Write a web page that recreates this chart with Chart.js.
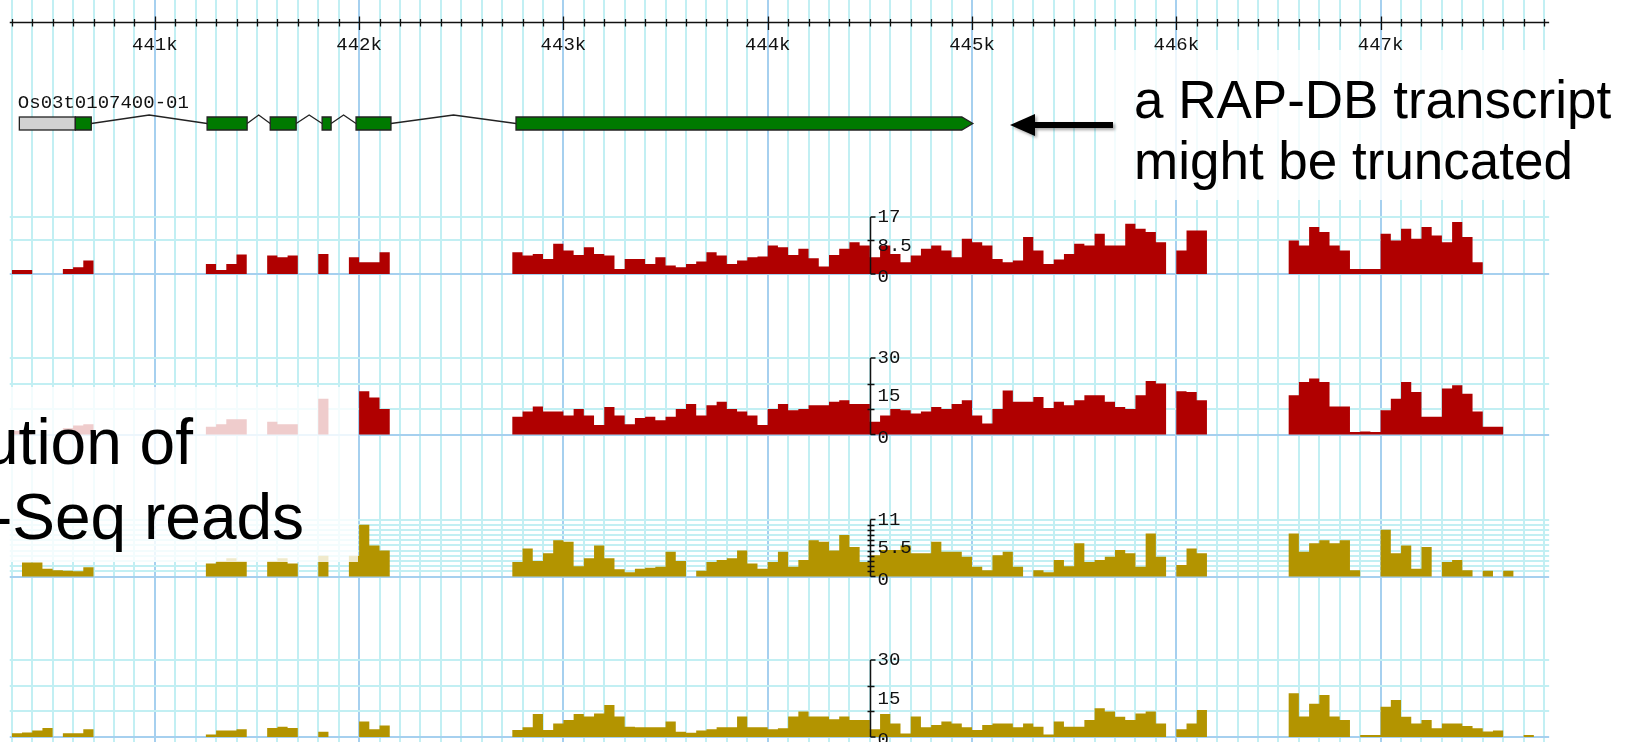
<!DOCTYPE html>
<html><head><meta charset="utf-8">
<script src="https://cdn.jsdelivr.net/npm/chart.js@4"></script>
<style>
html,body{margin:0;padding:0;background:#fff;overflow:hidden}
#wrap{position:relative;width:1633px;height:742px;overflow:hidden}
#c{position:absolute;left:0;top:0}
.box{position:absolute;background:rgba(255,255,255,0.8)}
.txt{position:absolute;font-family:"Liberation Sans",Arial,sans-serif;color:#000;white-space:nowrap;line-height:1}
svg{position:absolute;left:0;top:0}
</style></head><body>
<div id="wrap">
<canvas id="c" width="1633" height="742"></canvas>
<div class="box" style="left:1113px;top:50px;width:520px;height:150px"></div>
<div class="box" style="left:0;top:387px;width:358px;height:175px"></div>
<svg width="1633" height="742">
  <defs><filter id="sh" x="-20%" y="-50%" width="140%" height="200%"><feDropShadow dx="2" dy="2" stdDeviation="1.5" flood-color="#000" flood-opacity="0.35"/></filter></defs>
  <g filter="url(#sh)"><rect x="1031" y="122" width="82" height="6" fill="#000"/><polygon points="1010,125 1035,114 1035,136" fill="#000"/></g>
</svg>
<div class="txt" style="left:1134px;top:73px;font-size:53px">a RAP-DB transcript</div>
<div class="txt" style="left:1134px;top:134px;font-size:53px">might be truncated</div>
<div class="txt" style="left:-17px;top:410px;font-size:64px">ution of</div>
<div class="txt" style="left:-9px;top:485px;font-size:64px">-Seq reads</div>
</div>
<script>
// ---------- data ----------
const BIN_START = 440300, BIN_SIZE = 50;
const rulerTickPos = [441000, 442000, 443000, 444000, 445000, 446000, 447000];
const rulerTickLabels = ['441k', '442k', '443k', '444k', '445k', '446k', '447k'];
const geneLabel = 'Os03t0107400-01';
const utrBlocks = [[440337, 440611]];
const cdsBlocks = [[440611, 440689], [441256, 441452], [441565, 441692], [441819, 441863], [441985, 442156], [442768, 445004]];

const rna1 = [
 1.2,1.2,0,0,0,1.5,2,4,0,0,
 0,0,0,0,0,0,0,0,0,3,
 1.2,3,5.8,0,0,5.5,5,5.5,0,0,
 6,0,0,5,3.5,3.5,6.5,0,0,0,
 0,0,0,0,0,0,0,0,0,6.5,
 5.5,6,4.5,9,7,5.7,8,6,5.5,1.5,
 4.5,4.5,3,5,2.5,2,3,3.7,6.5,5.5,
 3,4,5,5.2,8.5,8,5.7,7.5,4.7,2.2,
 5.7,7.5,9.5,8.5,5,8.5,6,3.5,5.5,7.5,
 8.5,7,5,10.5,9.5,8.5,4.5,3.5,4,11,
 7,3,4.3,6,9,8.5,12,8.5,8.5,15,
 13.5,12.5,9.5,0,7,13,13,0,0,0,
 0,0,0,0,0,10,8.5,14,12.5,8.5,
 7,1.5,1.5,1.5,12,10,13.5,10.5,14,11.5,
 9.5,15.5,11,3.5,0,0,0,0,0,0];
const rna2 = [
 1.5,1.5,0,0,0,2.5,3.5,4,0,0,
 0,0,0,0,0,0,0,0,0,3,
 4,6,6,0,0,5,4,4,0,0,
 14,0,0,0,17,14.5,10,0,0,0,
 0,0,0,0,0,0,0,0,0,7,
 9,11,9,9,7.5,10,7.5,3.7,10.8,7.5,
 4,6.5,7,5.6,7,10,12,7.5,11.5,12.8,
 10,9,7.5,3.7,10,12,9.5,10,11.5,11.5,
 12.8,13.4,12,12,5,7.5,10,9.5,8.2,9,
 10.8,10,12,13.4,7.5,4.3,10,17.3,12.8,12.8,
 14.7,10.4,12.8,11.5,13.4,15.4,15.4,12.8,10.8,10,
 15.4,21,20,0,17,16.7,13.4,0,0,0,
 0,0,0,0,0,15.4,20.6,22,20.6,11,
 11,1,1.2,1,9.5,14,20.6,16.7,7,7,
 18,19.3,16,9,3,3,0,0,0,0];
const rna3 = [
 0,2.7,2.7,1.5,1.2,1.1,1,1.8,0,0,
 0,0,0,0,0,0,0,0,0,2.5,
 3,3.5,3,0,0,3,3.5,2.5,0,0,
 4,0,0,4,10,6,5,0,0,0,
 0,0,0,0,0,0,0,0,0,2.8,
 5.4,3,4.5,7,6.7,2,3.5,6,3.5,1.4,
 0.8,1.5,1.7,1.9,4.8,3,0,1.1,2.8,3.2,
 3.5,5,2.5,1.5,2.8,4.8,1.9,3.2,7,6.7,
 5,8,5.7,2.8,4.1,5.1,5.1,6,4.5,4.5,
 6.7,4.8,4.8,3.8,1.9,1.2,4.1,4.8,1.9,0,
 1.2,0.8,3.2,2,6.4,2.8,3.2,3.8,5.1,4.5,
 1.9,8.3,3.8,0,2.2,5.4,4.5,0,0,0,
 0,0,0,0,0,8.3,4.8,6.4,7,6.4,
 7,1.2,0,0,9,4.5,6,1.5,5.7,0,
 2.8,3.2,1.2,0,1.1,0,1.1,0,0,0];
const rna4 = [
 1.5,1.8,2.5,3.5,0,1.5,1.5,3,0,0,
 0,0,0,0,0,0,0,0,0,1,
 2.5,2.5,3,0,0,3.5,4,3.5,0,0,
 2,0,0,0,6,3,4.5,0,0,0,
 0,0,0,0,0,0,0,0,0,2.7,
 3.8,9,2.7,5.3,6.6,9,8,9.2,12.5,8,
 4,3.8,3.8,3.8,6,2,1.7,2.5,3,3.8,
 3.8,8,3.8,3.8,3,3.4,8,9.9,8,8,
 6.9,8,6.6,6.6,3,9,5.3,1.4,8,3.8,
 4.7,6,5.3,3.8,2.7,4.7,5.3,5.3,3.8,5.3,
 4,1,6,4,4,6.6,11.2,9.9,7.9,6.6,
 9.2,9.9,5.3,0,3,5.3,10.5,0,0,0,
 0,0,0,0,0,17,8,13,16.4,8,
 6.6,0,0.8,0.8,11.8,14.4,7.9,5.3,6.6,3.4,
 5.3,5.3,4.3,3.4,2.1,2.5,0,0,0.8,0];

const t1Max = 17, t2Max = 30, t3Max = 11, t4Max = 30;
const t1Grid = [0, 10, 17], t2Grid = [0, 10, 20, 30], t3Grid = [0,1,2,3,4,5,6,7,8,9,10,11], t4Grid = [0, 10, 20, 30];
const t1Labels = ['17', '8.5', '0'], t2Labels = ['30', '15', '0'], t3Labels = ['11', '5.5', '0'], t4Labels = ['30', '15', '0'];
const t1LabelVals = [17, 8.5, 0], t2LabelVals = [30, 15, 0], t3LabelVals = [11, 5.5, 0], t4LabelVals = [30, 15, 0];

// ---------- layout / style ----------
const W = 1633, H = 742;
const VIEW_MIN = 440242.3, VIEW_MAX = 448235.4;
const GRID_FROM = 440300, GRID_TO = 447800, GRID_STEP = 100, GRID_MAJOR = 1000;
const SPAN_FROM = 440290, SPAN_TO = 447825;
const AXIS_POS = 444500;
const MINOR_COLOR = '#c2eff3', MAJOR_COLOR = '#a6d0ef';
const RED = '#b00000', OLIVE = '#b39400';
const MONO = '19px "Liberation Mono", "DejaVu Sans Mono", monospace';

function yRange(base, top, vmax) {
  const k = vmax / (base - top);
  const min = -(H - base) * k;
  return { min: min, max: min + H * k };
}
const trackDefs = [
  { id: 'y1', data: rna1, color: RED,   base: 274,   top: 217,   vmax: t1Max, grid: t1Grid, labels: t1Labels, labelVals: t1LabelVals },
  { id: 'y2', data: rna2, color: RED,   base: 434.5, top: 358,   vmax: t2Max, grid: t2Grid, labels: t2Labels, labelVals: t2LabelVals },
  { id: 'y3', data: rna3, color: OLIVE, base: 576.5, top: 519.5, vmax: t3Max, grid: t3Grid, labels: t3Labels, labelVals: t3LabelVals },
  { id: 'y4', data: rna4, color: OLIVE, base: 737,   top: 660,   vmax: t4Max, grid: t4Grid, labels: t4Labels, labelVals: t4LabelVals }
];
function toPoints(vals) {
  const pts = vals.map((v, i) => ({ x: BIN_START + i * BIN_SIZE, y: v }));
  pts.push({ x: BIN_START + vals.length * BIN_SIZE, y: 0 });
  return pts;
}

const scales = { x: { type: 'linear', display: false, min: VIEW_MIN, max: VIEW_MAX } };
trackDefs.forEach(t => {
  const r = yRange(t.base, t.top, t.vmax);
  scales[t.id] = { type: 'linear', display: false, min: r.min, max: r.max, grace: 0 };
});

const genomePlugin = {
  id: 'genome',
  beforeDatasetsDraw(chart) {
    const ctx = chart.ctx, xs = chart.scales.x;
    const X = v => xs.getPixelForValue(v);
    ctx.save();
    ctx.lineWidth = 2;
    for (let pass = 0; pass < 2; pass++) {
      for (let p = GRID_FROM; p <= GRID_TO; p += GRID_STEP) {
        const major = p % GRID_MAJOR === 0;
        if ((pass === 0) === major) continue;
        ctx.strokeStyle = major ? MAJOR_COLOR : MINOR_COLOR;
        const x = Math.round(X(p));
        ctx.beginPath(); ctx.moveTo(x, 0); ctx.lineTo(x, H); ctx.stroke();
      }
    }
    trackDefs.forEach(t => {
      const ys = chart.scales[t.id];
      t.grid.forEach(v => {
        const y = Math.round(ys.getPixelForValue(v));
        ctx.strokeStyle = v === 0 ? MAJOR_COLOR : MINOR_COLOR;
        ctx.lineWidth = 2;
        ctx.beginPath(); ctx.moveTo(X(SPAN_FROM), y); ctx.lineTo(X(SPAN_TO), y); ctx.stroke();
      });
    });
    const ry = 22.5;
    ctx.strokeStyle = '#111'; ctx.lineWidth = 1.6;
    ctx.beginPath(); ctx.moveTo(X(SPAN_FROM), ry); ctx.lineTo(X(SPAN_TO), ry); ctx.stroke();
    ctx.lineWidth = 1.3;
    for (let p = GRID_FROM; p <= GRID_TO; p += GRID_STEP) {
      const major = p % GRID_MAJOR === 0;
      const x = Math.round(X(p)) + 0.5;
      ctx.beginPath();
      ctx.moveTo(x, major ? ry - 6 : ry - 3.5);
      ctx.lineTo(x, major ? ry + 7.5 : ry + 4);
      ctx.stroke();
    }
    ctx.fillStyle = '#111'; ctx.font = MONO; ctx.textAlign = 'center'; ctx.textBaseline = 'alphabetic';
    rulerTickPos.forEach((p, i) => ctx.fillText(rulerTickLabels[i], X(p), 50));
    ctx.textAlign = 'left';
    ctx.fillText(geneLabel, X(utrBlocks[0][0]) - 1.5, 108);
    const gTop = 117, gBot = 130, gMid = 123.5, hatTop = 115;
    const blocks = utrBlocks.concat(cdsBlocks).sort((a, b) => a[0] - b[0]);
    ctx.strokeStyle = '#222'; ctx.lineWidth = 1.3;
    for (let i = 0; i < blocks.length - 1; i++) {
      const a = blocks[i][1], b = blocks[i + 1][0];
      if (b - a < 5) continue;
      const xa = X(a), xb = X(b);
      ctx.beginPath(); ctx.moveTo(xa, gMid); ctx.lineTo((xa + xb) / 2, hatTop); ctx.lineTo(xb, gMid); ctx.stroke();
    }
    utrBlocks.forEach(b => {
      ctx.fillStyle = '#d2d2d2';
      ctx.fillRect(X(b[0]), gTop, X(b[1]) - X(b[0]), gBot - gTop);
      ctx.strokeRect(X(b[0]), gTop, X(b[1]) - X(b[0]), gBot - gTop);
    });
    cdsBlocks.forEach((b, i) => {
      const x0 = X(b[0]), x1 = X(b[1]);
      ctx.fillStyle = '#007a00';
      ctx.beginPath();
      if (i === cdsBlocks.length - 1) {
        const tip = 11;
        ctx.moveTo(x0, gTop); ctx.lineTo(x1 - tip, gTop); ctx.lineTo(x1, gMid); ctx.lineTo(x1 - tip, gBot); ctx.lineTo(x0, gBot);
      } else {
        ctx.rect(x0, gTop, x1 - x0, gBot - gTop);
      }
      ctx.closePath(); ctx.fill(); ctx.stroke();
    });
    ctx.restore();
  },
  afterDatasetsDraw(chart) {
    const ctx = chart.ctx, xs = chart.scales.x;
    const ax = Math.round(xs.getPixelForValue(AXIS_POS)) + 0.5;
    ctx.save();
    ctx.strokeStyle = '#111'; ctx.fillStyle = '#111'; ctx.lineWidth = 1.5;
    ctx.font = MONO; ctx.textAlign = 'left'; ctx.textBaseline = 'middle';
    trackDefs.forEach(t => {
      const ys = chart.scales[t.id];
      const yTop = ys.getPixelForValue(t.vmax), y0 = ys.getPixelForValue(0);
      ctx.beginPath(); ctx.moveTo(ax, yTop); ctx.lineTo(ax, y0); ctx.stroke();
      ctx.beginPath(); ctx.moveTo(ax, yTop); ctx.lineTo(ax + 5, yTop); ctx.moveTo(ax, y0); ctx.lineTo(ax + 5, y0); ctx.stroke();
      t.grid.forEach(v => {
        if (v === 0 || v === t.vmax) return;
        const y = Math.round(ys.getPixelForValue(v)) + 0.5;
        ctx.beginPath(); ctx.moveTo(ax - 3, y); ctx.lineTo(ax + 4, y); ctx.stroke();
      });
      t.labels.forEach((lab, i) => {
        const v = t.labelVals[i];
        const y = ys.getPixelForValue(v) + (v === 0 ? 3 : 0);
        ctx.fillText(lab, ax + 7, y);
      });
    });
    ctx.restore();
  }
};

new Chart(document.getElementById('c'), {
  type: 'line',
  data: {
    datasets: trackDefs.map(t => ({
      data: toPoints(t.data), yAxisID: t.id, xAxisID: 'x',
      stepped: true, fill: 'origin', backgroundColor: t.color,
      borderColor: 'rgba(0,0,0,0)', borderWidth: 0, pointRadius: 0, pointHitRadius: 0
    }))
  },
  options: {
    responsive: false, animation: false, devicePixelRatio: 1,
    layout: { padding: 0 },
    plugins: { legend: { display: false }, tooltip: { enabled: false } },
    events: [],
    scales: scales
  },
  plugins: [genomePlugin]
});
</script>
</body></html>
